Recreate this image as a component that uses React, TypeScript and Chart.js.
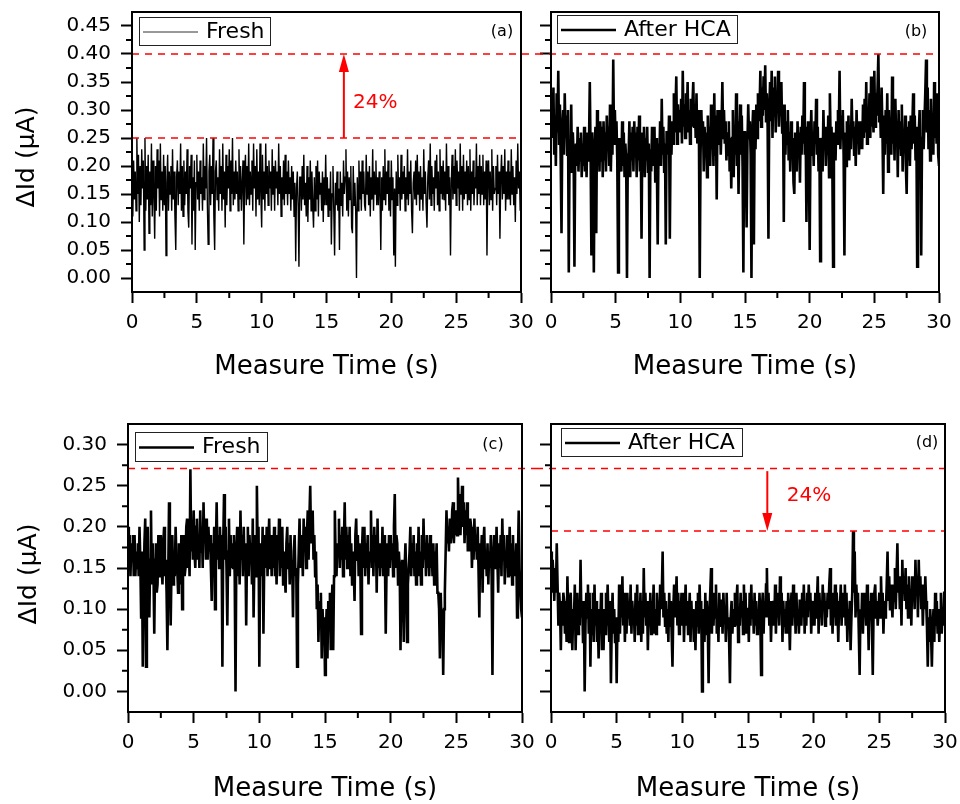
import React, { useEffect, useRef } from "react";
import { Chart, registerables } from "chart.js";

Chart.register(...registerables);

const FONT = '"DejaVu Sans", "Liberation Sans", Arial, sans-serif';

// total record length of each trace (s); samples are evenly spaced over it (16 per second)
const RECORD_LENGTH_S = 30;

const X_TICKS = [0, 5, 10, 15, 20, 25, 30];
const X_MINOR_TICKS = [2.5, 7.5, 12.5, 17.5, 22.5, 27.5];

const Y_TICKS_TOP = [0, 0.05, 0.1, 0.15, 0.2, 0.25, 0.3, 0.35, 0.4, 0.45];
const Y_MINOR_TOP = [0.025, 0.075, 0.125, 0.175, 0.225, 0.275, 0.325, 0.375, 0.425];
const Y_TICKS_BOTTOM = [0, 0.05, 0.1, 0.15, 0.2, 0.25, 0.3];
const Y_MINOR_BOTTOM = [0.025, 0.075, 0.125, 0.175, 0.225, 0.275];

// reference levels (µA)
const LEVEL_A_HIGH = 0.4;
const LEVEL_A_LOW = 0.25;
const LEVEL_C_HIGH = 0.271;
const LEVEL_D_LOW = 0.195;

const SERIES_NAMES = ["Fresh", "After HCA", "Fresh", "After HCA"];
const PANEL_TAGS = ["(a)", "(b)", "(c)", "(d)"];
const CHANGE_LABEL = "24%";

// (a) Fresh
const FRESH_A = [
  0.18, 0.11, 0.21, 0.14, 0.19, 0.12, 0.25, 0.15, 0.22, 0.10, 0.20, 0.13, 0.23, 0.16, 0.21, 0.05,
  0.25, 0.12, 0.20, 0.14, 0.22, 0.08, 0.19, 0.13, 0.24, 0.11, 0.21, 0.15, 0.07, 0.20, 0.12, 0.23,
  0.16, 0.21, 0.11, 0.24, 0.14, 0.19, 0.12, 0.22, 0.13, 0.20, 0.04, 0.17, 0.22, 0.12, 0.19, 0.15,
  0.20, 0.12, 0.23, 0.14, 0.19, 0.11, 0.05, 0.18, 0.21, 0.13, 0.19, 0.15, 0.24, 0.12, 0.20, 0.11,
  0.21, 0.13, 0.19, 0.15, 0.23, 0.12, 0.09, 0.20, 0.16, 0.22, 0.06, 0.18, 0.12, 0.21, 0.05, 0.17,
  0.22, 0.14, 0.19, 0.12, 0.21, 0.15, 0.18, 0.12, 0.24, 0.14, 0.20, 0.16, 0.25, 0.13, 0.06, 0.19,
  0.22, 0.13, 0.20, 0.15, 0.25, 0.11, 0.05, 0.19, 0.21, 0.14, 0.18, 0.12, 0.23, 0.15, 0.20, 0.12,
  0.24, 0.14, 0.19, 0.09, 0.22, 0.13, 0.20, 0.16, 0.23, 0.12, 0.21, 0.15, 0.25, 0.13, 0.19, 0.14,
  0.21, 0.15, 0.19, 0.12, 0.23, 0.14, 0.20, 0.12, 0.17, 0.21, 0.06, 0.18, 0.22, 0.13, 0.20, 0.14,
  0.24, 0.13, 0.19, 0.15, 0.21, 0.12, 0.24, 0.16, 0.20, 0.11, 0.23, 0.14, 0.19, 0.13, 0.24, 0.15,
  0.09, 0.22, 0.14, 0.19, 0.12, 0.24, 0.15, 0.20, 0.13, 0.21, 0.16, 0.19, 0.12, 0.23, 0.15, 0.20,
  0.12, 0.21, 0.16, 0.19, 0.13, 0.24, 0.15, 0.20, 0.11, 0.18, 0.14, 0.21, 0.13, 0.22, 0.15, 0.19,
  0.13, 0.21, 0.15, 0.18, 0.12, 0.20, 0.14, 0.19, 0.11, 0.17, 0.03, 0.16, 0.19, 0.13, 0.02, 0.18,
  0.18, 0.12, 0.20, 0.14, 0.22, 0.13, 0.17, 0.11, 0.20, 0.10, 0.18, 0.14, 0.21, 0.12, 0.19, 0.13,
  0.09, 0.18, 0.12, 0.20, 0.14, 0.21, 0.11, 0.19, 0.15, 0.17, 0.12, 0.19, 0.10, 0.18, 0.13, 0.22,
  0.13, 0.18, 0.11, 0.16, 0.12, 0.19, 0.06, 0.15, 0.20, 0.12, 0.04, 0.17, 0.13, 0.19, 0.12, 0.16,
  0.05, 0.19, 0.13, 0.17, 0.11, 0.21, 0.15, 0.18, 0.23, 0.12, 0.19, 0.11, 0.18, 0.14, 0.20, 0.09,
  0.08, 0.20, 0.13, 0.17, 0.12, 0.00, 0.18, 0.12, 0.21, 0.14, 0.19, 0.12, 0.21, 0.15, 0.19, 0.13,
  0.12, 0.22, 0.15, 0.19, 0.13, 0.20, 0.11, 0.18, 0.14, 0.23, 0.12, 0.19, 0.15, 0.21, 0.13, 0.18,
  0.13, 0.19, 0.15, 0.05, 0.18, 0.12, 0.20, 0.14, 0.23, 0.13, 0.19, 0.15, 0.21, 0.12, 0.18, 0.11,
  0.21, 0.14, 0.18, 0.04, 0.16, 0.02, 0.19, 0.13, 0.22, 0.15, 0.18, 0.12, 0.22, 0.14, 0.19, 0.15,
  0.20, 0.12, 0.18, 0.14, 0.23, 0.13, 0.19, 0.15, 0.21, 0.12, 0.08, 0.17, 0.19, 0.14, 0.21, 0.13,
  0.22, 0.15, 0.19, 0.12, 0.20, 0.14, 0.18, 0.12, 0.23, 0.15, 0.19, 0.13, 0.09, 0.18, 0.21, 0.14,
  0.24, 0.13, 0.20, 0.15, 0.18, 0.12, 0.21, 0.16, 0.22, 0.13, 0.19, 0.12, 0.23, 0.15, 0.20, 0.14,
  0.21, 0.14, 0.19, 0.12, 0.24, 0.15, 0.20, 0.13, 0.18, 0.04, 0.17, 0.22, 0.14, 0.20, 0.15, 0.23,
  0.13, 0.21, 0.16, 0.19, 0.12, 0.24, 0.15, 0.20, 0.12, 0.22, 0.14, 0.19, 0.15, 0.21, 0.13, 0.20,
  0.14, 0.23, 0.12, 0.19, 0.15, 0.21, 0.13, 0.18, 0.16, 0.24, 0.13, 0.20, 0.15, 0.22, 0.13, 0.20,
  0.15, 0.22, 0.13, 0.19, 0.14, 0.21, 0.04, 0.18, 0.21, 0.13, 0.19, 0.14, 0.23, 0.12, 0.20, 0.15,
  0.16, 0.20, 0.13, 0.22, 0.15, 0.19, 0.07, 0.18, 0.22, 0.14, 0.20, 0.15, 0.23, 0.12, 0.19, 0.14,
  0.21, 0.14, 0.19, 0.13, 0.23, 0.15, 0.20, 0.13, 0.18, 0.10, 0.21, 0.15, 0.24, 0.16, 0.19, 0.12,
  0.19,
];

// (b) After HCA
const AFTER_HCA_B = [
  0.27, 0.33, 0.25, 0.34, 0.22, 0.29, 0.20, 0.33, 0.26, 0.37, 0.24, 0.31, 0.21, 0.08, 0.27, 0.30,
  0.22, 0.33, 0.25, 0.29, 0.22, 0.30, 0.01, 0.24, 0.20, 0.31, 0.19, 0.26, 0.22, 0.02, 0.23, 0.24,
  0.20, 0.27, 0.19, 0.25, 0.21, 0.26, 0.18, 0.24, 0.20, 0.27, 0.19, 0.25, 0.18, 0.26, 0.21, 0.24,
  0.35, 0.22, 0.04, 0.26, 0.19, 0.01, 0.23, 0.27, 0.08, 0.30, 0.20, 0.26, 0.19, 0.28, 0.21, 0.27,
  0.18, 0.28, 0.21, 0.26, 0.19, 0.29, 0.23, 0.27, 0.20, 0.31, 0.19, 0.26, 0.22, 0.39, 0.24, 0.30,
  0.24, 0.28, 0.21, 0.01, 0.25, 0.20, 0.25, 0.19, 0.28, 0.20, 0.26, 0.18, 0.24, 0.21, 0.00, 0.22,
  0.22, 0.28, 0.18, 0.26, 0.21, 0.27, 0.19, 0.28, 0.22, 0.26, 0.18, 0.27, 0.21, 0.29, 0.19, 0.25,
  0.07, 0.26, 0.20, 0.27, 0.18, 0.25, 0.21, 0.27, 0.19, 0.24, 0.00, 0.23, 0.19, 0.27, 0.20, 0.25,
  0.27, 0.17, 0.25, 0.20, 0.06, 0.24, 0.21, 0.28, 0.20, 0.32, 0.22, 0.27, 0.19, 0.24, 0.06, 0.26,
  0.26, 0.22, 0.29, 0.07, 0.25, 0.22, 0.28, 0.24, 0.33, 0.26, 0.30, 0.36, 0.24, 0.31, 0.26, 0.30,
  0.26, 0.32, 0.24, 0.37, 0.27, 0.31, 0.25, 0.33, 0.28, 0.35, 0.26, 0.30, 0.24, 0.32, 0.27, 0.31,
  0.35, 0.27, 0.31, 0.25, 0.33, 0.24, 0.30, 0.26, 0.00, 0.22, 0.30, 0.24, 0.28, 0.19, 0.27, 0.23,
  0.26, 0.18, 0.29, 0.22, 0.27, 0.20, 0.31, 0.23, 0.27, 0.20, 0.33, 0.22, 0.29, 0.14, 0.30, 0.25,
  0.24, 0.30, 0.22, 0.27, 0.35, 0.25, 0.30, 0.24, 0.28, 0.21, 0.26, 0.22, 0.28, 0.19, 0.25, 0.16,
  0.25, 0.30, 0.18, 0.27, 0.22, 0.33, 0.20, 0.28, 0.15, 0.26, 0.31, 0.22, 0.29, 0.20, 0.01, 0.26,
  0.26, 0.22, 0.09, 0.24, 0.31, 0.25, 0.28, 0.22, 0.00, 0.26, 0.30, 0.06, 0.29, 0.23, 0.31, 0.25,
  0.33, 0.28, 0.30, 0.37, 0.27, 0.34, 0.29, 0.36, 0.30, 0.38, 0.28, 0.33, 0.27, 0.07, 0.30, 0.35,
  0.28, 0.37, 0.25, 0.34, 0.29, 0.36, 0.26, 0.33, 0.30, 0.37, 0.27, 0.32, 0.29, 0.35, 0.26, 0.31,
  0.10, 0.31, 0.22, 0.28, 0.24, 0.30, 0.21, 0.26, 0.19, 0.28, 0.22, 0.25, 0.17, 0.15, 0.26, 0.24,
  0.19, 0.28, 0.23, 0.26, 0.17, 0.27, 0.22, 0.29, 0.24, 0.35, 0.22, 0.27, 0.10, 0.24, 0.28, 0.22,
  0.05, 0.24, 0.30, 0.22, 0.26, 0.20, 0.28, 0.24, 0.32, 0.22, 0.27, 0.19, 0.25, 0.03, 0.24, 0.25,
  0.19, 0.30, 0.23, 0.27, 0.20, 0.26, 0.22, 0.29, 0.18, 0.33, 0.24, 0.27, 0.21, 0.02, 0.26, 0.24,
  0.21, 0.28, 0.24, 0.30, 0.26, 0.37, 0.23, 0.29, 0.25, 0.30, 0.22, 0.04, 0.26, 0.20, 0.28, 0.23,
  0.29, 0.21, 0.27, 0.23, 0.32, 0.25, 0.28, 0.22, 0.27, 0.20, 0.30, 0.24, 0.28, 0.22, 0.26, 0.23,
  0.28, 0.23, 0.31, 0.25, 0.32, 0.26, 0.35, 0.24, 0.30, 0.26, 0.33, 0.25, 0.36, 0.27, 0.30, 0.26,
  0.37, 0.27, 0.33, 0.29, 0.34, 0.40, 0.28, 0.31, 0.25, 0.34, 0.27, 0.15, 0.29, 0.22, 0.30, 0.24,
  0.33, 0.19, 0.30, 0.24, 0.27, 0.22, 0.36, 0.24, 0.29, 0.21, 0.32, 0.25, 0.28, 0.18, 0.30, 0.23,
  0.28, 0.22, 0.31, 0.19, 0.26, 0.23, 0.29, 0.20, 0.15, 0.27, 0.21, 0.28, 0.20, 0.29, 0.23, 0.27,
  0.33, 0.24, 0.29, 0.21, 0.27, 0.02, 0.21, 0.26, 0.30, 0.22, 0.04, 0.25, 0.30, 0.23, 0.28, 0.33,
  0.39, 0.26, 0.34, 0.23, 0.30, 0.21, 0.32, 0.24, 0.29, 0.22, 0.35, 0.25, 0.30, 0.24, 0.33, 0.22,
  0.20,
];

// (c) Fresh
const FRESH_C = [
  0.20, 0.15, 0.19, 0.14, 0.18, 0.16, 0.19, 0.14, 0.19, 0.14, 0.17, 0.15, 0.18, 0.14, 0.20, 0.16,
  0.09, 0.17, 0.03, 0.12, 0.18, 0.21, 0.03, 0.15, 0.20, 0.14, 0.09, 0.16, 0.22, 0.13, 0.18, 0.15,
  0.07, 0.16, 0.18, 0.12, 0.13, 0.19, 0.17, 0.14, 0.19, 0.15, 0.13, 0.18, 0.20, 0.14, 0.16, 0.12,
  0.05, 0.14, 0.23, 0.17, 0.08, 0.15, 0.19, 0.13, 0.17, 0.14, 0.20, 0.16, 0.15, 0.12, 0.18, 0.13,
  0.14, 0.19, 0.10, 0.16, 0.19, 0.14, 0.15, 0.20, 0.21, 0.15, 0.18, 0.14, 0.27, 0.17, 0.20, 0.16,
  0.22, 0.17, 0.15, 0.20, 0.21, 0.16, 0.19, 0.15, 0.22, 0.17, 0.20, 0.15, 0.23, 0.18, 0.21, 0.16,
  0.21, 0.16, 0.20, 0.17, 0.19, 0.15, 0.11, 0.18, 0.15, 0.20, 0.10, 0.17, 0.23, 0.16, 0.19, 0.15,
  0.20, 0.16, 0.19, 0.03, 0.18, 0.24, 0.16, 0.20, 0.15, 0.08, 0.17, 0.21, 0.14, 0.19, 0.15, 0.18,
  0.15, 0.19, 0.14, 0.00, 0.17, 0.20, 0.14, 0.18, 0.13, 0.22, 0.16, 0.19, 0.14, 0.20, 0.15, 0.18,
  0.08, 0.17, 0.20, 0.14, 0.19, 0.16, 0.18, 0.13, 0.21, 0.09, 0.16, 0.19, 0.14, 0.25, 0.17, 0.20,
  0.03, 0.16, 0.18, 0.14, 0.20, 0.07, 0.16, 0.19, 0.15, 0.20, 0.14, 0.18, 0.21, 0.15, 0.19, 0.14,
  0.19, 0.15, 0.20, 0.14, 0.18, 0.13, 0.19, 0.16, 0.21, 0.14, 0.18, 0.15, 0.20, 0.13, 0.17, 0.14,
  0.12, 0.18, 0.20, 0.15, 0.18, 0.13, 0.19, 0.14, 0.16, 0.09, 0.17, 0.19, 0.14, 0.15, 0.03, 0.13,
  0.17, 0.21, 0.15, 0.19, 0.18, 0.14, 0.21, 0.17, 0.20, 0.15, 0.19, 0.22, 0.16, 0.21, 0.25, 0.18,
  0.18, 0.22, 0.16, 0.19, 0.14, 0.17, 0.10, 0.13, 0.06, 0.11, 0.09, 0.12, 0.04, 0.10, 0.07, 0.09,
  0.02, 0.07, 0.10, 0.04, 0.11, 0.08, 0.12, 0.05, 0.10, 0.13, 0.05, 0.14, 0.22, 0.16, 0.14, 0.18,
  0.17, 0.21, 0.15, 0.19, 0.16, 0.20, 0.14, 0.18, 0.23, 0.16, 0.20, 0.15, 0.19, 0.16, 0.20, 0.14,
  0.18, 0.13, 0.17, 0.15, 0.11, 0.19, 0.21, 0.16, 0.19, 0.14, 0.18, 0.16, 0.07, 0.17, 0.20, 0.15,
  0.20, 0.14, 0.18, 0.15, 0.19, 0.13, 0.17, 0.16, 0.22, 0.15, 0.19, 0.14, 0.20, 0.16, 0.19, 0.12,
  0.21, 0.15, 0.18, 0.14, 0.17, 0.15, 0.20, 0.14, 0.19, 0.16, 0.07, 0.15, 0.18, 0.14, 0.19, 0.15,
  0.19, 0.16, 0.18, 0.14, 0.20, 0.24, 0.15, 0.19, 0.18, 0.13, 0.17, 0.15, 0.05, 0.14, 0.16, 0.12,
  0.06, 0.15, 0.18, 0.14, 0.06, 0.13, 0.15, 0.17, 0.20, 0.14, 0.18, 0.15, 0.19, 0.14, 0.17, 0.13,
  0.18, 0.15, 0.20, 0.14, 0.17, 0.13, 0.19, 0.15, 0.21, 0.16, 0.18, 0.14, 0.19, 0.15, 0.18, 0.14,
  0.19, 0.15, 0.17, 0.14, 0.18, 0.13, 0.17, 0.15, 0.18, 0.12, 0.12, 0.10, 0.04, 0.12, 0.08, 0.10,
  0.02, 0.10, 0.12, 0.17, 0.22, 0.18, 0.20, 0.17, 0.21, 0.18, 0.19, 0.22, 0.23, 0.18, 0.21, 0.19,
  0.22, 0.19, 0.26, 0.21, 0.24, 0.19, 0.22, 0.25, 0.20, 0.23, 0.18, 0.22, 0.19, 0.23, 0.17, 0.21,
  0.17, 0.21, 0.20, 0.15, 0.19, 0.16, 0.21, 0.17, 0.19, 0.16, 0.20, 0.15, 0.09, 0.18, 0.16, 0.19,
  0.12, 0.18, 0.20, 0.15, 0.17, 0.14, 0.18, 0.13, 0.17, 0.15, 0.19, 0.14, 0.02, 0.16, 0.19, 0.15,
  0.15, 0.20, 0.16, 0.12, 0.18, 0.15, 0.19, 0.14, 0.21, 0.16, 0.19, 0.13, 0.17, 0.15, 0.19, 0.14,
  0.16, 0.20, 0.14, 0.18, 0.13, 0.19, 0.15, 0.17, 0.14, 0.18, 0.09, 0.16, 0.22, 0.15, 0.12, 0.10,
  0.09,
];

// (d) After HCA
const AFTER_HCA_D = [
  0.17, 0.12, 0.16, 0.14, 0.11, 0.15, 0.12, 0.18, 0.13, 0.08, 0.12, 0.10, 0.05, 0.11, 0.08, 0.12,
  0.11, 0.07, 0.10, 0.06, 0.14, 0.09, 0.06, 0.11, 0.12, 0.08, 0.05, 0.10, 0.09, 0.13, 0.05, 0.10,
  0.12, 0.07, 0.10, 0.08, 0.16, 0.09, 0.11, 0.06, 0.11, 0.00, 0.08, 0.12, 0.09, 0.13, 0.07, 0.12,
  0.03, 0.10, 0.07, 0.12, 0.06, 0.13, 0.08, 0.11, 0.06, 0.09, 0.04, 0.10, 0.08, 0.12, 0.05, 0.09,
  0.05, 0.10, 0.07, 0.12, 0.08, 0.13, 0.09, 0.06, 0.11, 0.01, 0.08, 0.12, 0.07, 0.10, 0.06, 0.09,
  0.01, 0.09, 0.06, 0.13, 0.07, 0.11, 0.09, 0.14, 0.08, 0.12, 0.06, 0.10, 0.07, 0.12, 0.09, 0.11,
  0.08, 0.13, 0.07, 0.11, 0.09, 0.10, 0.06, 0.12, 0.08, 0.13, 0.07, 0.11, 0.08, 0.12, 0.06, 0.11,
  0.07, 0.15, 0.09, 0.12, 0.08, 0.11, 0.05, 0.10, 0.08, 0.12, 0.07, 0.11, 0.09, 0.13, 0.07, 0.10,
  0.07, 0.12, 0.09, 0.11, 0.08, 0.13, 0.10, 0.12, 0.17, 0.09, 0.12, 0.08, 0.11, 0.07, 0.10, 0.06,
  0.12, 0.08, 0.11, 0.07, 0.03, 0.10, 0.13, 0.09, 0.11, 0.14, 0.08, 0.12, 0.07, 0.11, 0.09, 0.12,
  0.08, 0.12, 0.06, 0.10, 0.13, 0.08, 0.11, 0.07, 0.09, 0.12, 0.06, 0.11, 0.08, 0.10, 0.06, 0.09,
  0.05, 0.11, 0.08, 0.12, 0.07, 0.13, 0.09, 0.11, 0.00, 0.08, 0.10, 0.06, 0.12, 0.07, 0.11, 0.08,
  0.01, 0.09, 0.12, 0.15, 0.07, 0.11, 0.08, 0.12, 0.09, 0.13, 0.07, 0.10, 0.06, 0.12, 0.08, 0.11,
  0.11, 0.07, 0.12, 0.09, 0.10, 0.06, 0.12, 0.08, 0.09, 0.06, 0.01, 0.09, 0.11, 0.07, 0.10, 0.08,
  0.12, 0.08, 0.11, 0.13, 0.06, 0.10, 0.08, 0.12, 0.09, 0.11, 0.07, 0.13, 0.08, 0.12, 0.07, 0.10,
  0.10, 0.06, 0.12, 0.08, 0.13, 0.09, 0.11, 0.07, 0.12, 0.08, 0.11, 0.07, 0.10, 0.08, 0.12, 0.09,
  0.02, 0.10, 0.12, 0.07, 0.11, 0.09, 0.13, 0.15, 0.09, 0.12, 0.08, 0.11, 0.06, 0.10, 0.08, 0.11,
  0.08, 0.13, 0.07, 0.11, 0.09, 0.12, 0.08, 0.14, 0.10, 0.12, 0.06, 0.11, 0.08, 0.10, 0.07, 0.11,
  0.07, 0.12, 0.09, 0.05, 0.10, 0.12, 0.08, 0.13, 0.09, 0.11, 0.07, 0.12, 0.08, 0.10, 0.07, 0.11,
  0.11, 0.08, 0.12, 0.09, 0.13, 0.07, 0.11, 0.08, 0.12, 0.09, 0.13, 0.10, 0.12, 0.07, 0.11, 0.08,
  0.10, 0.08, 0.12, 0.09, 0.11, 0.14, 0.07, 0.12, 0.09, 0.11, 0.08, 0.13, 0.10, 0.12, 0.08, 0.11,
  0.09, 0.12, 0.10, 0.13, 0.15, 0.08, 0.11, 0.07, 0.12, 0.09, 0.13, 0.08, 0.12, 0.10, 0.06, 0.11,
  0.10, 0.13, 0.08, 0.12, 0.09, 0.11, 0.13, 0.08, 0.12, 0.06, 0.10, 0.08, 0.11, 0.05, 0.09, 0.12,
  0.195, 0.12, 0.17, 0.09, 0.13, 0.10, 0.12, 0.07, 0.02, 0.10, 0.08, 0.12, 0.07, 0.11, 0.09, 0.12,
  0.08, 0.13, 0.10, 0.05, 0.11, 0.09, 0.12, 0.08, 0.02, 0.10, 0.12, 0.13, 0.09, 0.11, 0.08, 0.10,
  0.12, 0.09, 0.14, 0.10, 0.12, 0.07, 0.11, 0.09, 0.10, 0.13, 0.17, 0.11, 0.14, 0.10, 0.13, 0.11,
  0.09, 0.13, 0.11, 0.15, 0.10, 0.14, 0.18, 0.12, 0.14, 0.10, 0.13, 0.08, 0.16, 0.12, 0.14, 0.11,
  0.15, 0.10, 0.13, 0.09, 0.14, 0.11, 0.12, 0.08, 0.14, 0.11, 0.13, 0.10, 0.16, 0.12, 0.14, 0.09,
  0.16, 0.12, 0.14, 0.10, 0.13, 0.08, 0.12, 0.10, 0.14, 0.11, 0.08, 0.03, 0.09, 0.06, 0.10, 0.07,
  0.03, 0.08, 0.10, 0.06, 0.12, 0.08, 0.11, 0.07, 0.10, 0.06, 0.09, 0.12, 0.07, 0.10, 0.08, 0.12,
  0.12,
];

type Ref = { value: number; fromEdge: boolean; toEdge: boolean };

type PanelCfg = {
  key: string;
  left: number;
  top: number;
  w: number;
  h: number;
  padding: { left: number; top: number; right: number; bottom: number };
  yWidth: number;
  xHeight: number;
  yMin: number;
  yMax: number;
  yTicks: number[];
  yMinor: number[];
  showYLabels: boolean;
  values: number[];
  lineWidth: number;
  name: string;
  tag: string;
  tagDx: number;
  tagDy: number;
  legend: { dx: number; dy: number; w: number; h: number; lineW: number; lineColor: string };
  refs: Ref[];
  arrow?: { x: number; from: number; to: number };
  note?: { x: number; y: number };
  xTitleDy: number;
  yTitleX?: number;
  yTitleDy?: number;
};

const PANELS: PanelCfg[] = [
  {
    key: "a", left: 0, top: 0, w: 536, h: 400,
    padding: { left: 0, top: 12, right: 15, bottom: 0 },
    yWidth: 132, xHeight: 108,
    yMin: -0.025, yMax: 0.475, yTicks: Y_TICKS_TOP, yMinor: Y_MINOR_TOP, showYLabels: true,
    values: FRESH_A, lineWidth: 1.4, name: SERIES_NAMES[0], tag: PANEL_TAGS[0], tagDx: -19, tagDy: 20,
    legend: { dx: 7, dy: 5, w: 131, h: 28, lineW: 1, lineColor: "#333" },
    refs: [
      { value: LEVEL_A_HIGH, fromEdge: false, toEdge: true },
      { value: LEVEL_A_LOW, fromEdge: false, toEdge: false },
    ],
    arrow: { x: 16.34, from: LEVEL_A_LOW, to: LEVEL_A_HIGH },
    note: { x: 17.05, y: 0.3127 },
    xTitleDy: 75, yTitleX: 27, yTitleDy: 5,
  },
  {
    key: "b", left: 536, top: 0, w: 424, h: 400,
    padding: { left: 0, top: 12, right: 21, bottom: 0 },
    yWidth: 15, xHeight: 108,
    yMin: -0.025, yMax: 0.475, yTicks: Y_TICKS_TOP, yMinor: Y_MINOR_TOP, showYLabels: false,
    values: AFTER_HCA_B, lineWidth: 2.6, name: SERIES_NAMES[1], tag: PANEL_TAGS[1], tagDx: -23, tagDy: 20,
    legend: { dx: 6, dy: 3, w: 180, h: 28, lineW: 2.5, lineColor: "#000" },
    refs: [{ value: LEVEL_A_HIGH, fromEdge: true, toEdge: false }],
    xTitleDy: 75,
  },
  {
    key: "c", left: 0, top: 400, w: 536, h: 404,
    padding: { left: 0, top: 24, right: 14, bottom: 0 },
    yWidth: 128, xHeight: 92,
    yMin: -0.025, yMax: 0.325, yTicks: Y_TICKS_BOTTOM, yMinor: Y_MINOR_BOTTOM, showYLabels: true,
    values: FRESH_C, lineWidth: 2.6, name: SERIES_NAMES[2], tag: PANEL_TAGS[2], tagDx: -29, tagDy: 21,
    legend: { dx: 7, dy: 8, w: 132, h: 29, lineW: 2.5, lineColor: "#000" },
    refs: [{ value: LEVEL_C_HIGH, fromEdge: false, toEdge: true }],
    xTitleDy: 77, yTitleX: 29, yTitleDy: 6,
  },
  {
    key: "d", left: 536, top: 400, w: 424, h: 404,
    padding: { left: 0, top: 24, right: 15, bottom: 0 },
    yWidth: 15, xHeight: 92,
    yMin: -0.025, yMax: 0.325, yTicks: Y_TICKS_BOTTOM, yMinor: Y_MINOR_BOTTOM, showYLabels: false,
    values: AFTER_HCA_D, lineWidth: 2.6, name: SERIES_NAMES[3], tag: PANEL_TAGS[3], tagDx: -18, tagDy: 19,
    legend: { dx: 10, dy: 4, w: 181, h: 28, lineW: 2.5, lineColor: "#000" },
    refs: [
      { value: LEVEL_C_HIGH, fromEdge: true, toEdge: false },
      { value: LEVEL_D_LOW, fromEdge: false, toEdge: false },
    ],
    arrow: { x: 16.47, from: 0.2677, to: LEVEL_D_LOW },
    note: { x: 17.95, y: 0.238 },
    xTitleDy: 77,
  },
];

function makeDecor(cfg: PanelCfg) {
  return {
    id: "decor" + cfg.key,
    afterDatasetsDraw(chart: any) {
      const { ctx, chartArea: a, scales } = chart;
      const xs = scales.x;
      const ys = scales.y;
      ctx.save();
      ctx.strokeStyle = "#ff0000";
      ctx.lineWidth = 1.5;
      ctx.setLineDash([7, 6]);
      for (const r of cfg.refs) {
        const py = ys.getPixelForValue(r.value);
        const x0 = r.fromEdge ? 0 : a.left;
        const x1 = r.toEdge ? chart.width : a.right;
        ctx.beginPath();
        ctx.moveTo(x0, py);
        ctx.lineTo(x1, py);
        ctx.stroke();
      }
      ctx.setLineDash([]);
      if (cfg.arrow) {
        const px = xs.getPixelForValue(cfg.arrow.x);
        const p0 = ys.getPixelForValue(cfg.arrow.from);
        const p1 = ys.getPixelForValue(cfg.arrow.to);
        const dir = p1 < p0 ? -1 : 1;
        const head = 18;
        ctx.strokeStyle = "#ff0000";
        ctx.fillStyle = "#ff0000";
        ctx.lineWidth = 2;
        ctx.beginPath();
        ctx.moveTo(px, p0);
        ctx.lineTo(px, p1 - dir * head);
        ctx.stroke();
        ctx.beginPath();
        ctx.moveTo(px, p1);
        ctx.lineTo(px - 5, p1 - dir * head);
        ctx.lineTo(px + 5, p1 - dir * head);
        ctx.closePath();
        ctx.fill();
      }
      if (cfg.note) {
        ctx.fillStyle = "#ff0000";
        ctx.font = `20px ${FONT}`;
        ctx.textAlign = "left";
        ctx.textBaseline = "middle";
        ctx.fillText(CHANGE_LABEL, xs.getPixelForValue(cfg.note.x), ys.getPixelForValue(cfg.note.y));
      }
      ctx.restore();
    },
    afterDraw(chart: any) {
      const { ctx, chartArea: a, scales } = chart;
      const xs = scales.x;
      const ys = scales.y;
      ctx.save();
      ctx.strokeStyle = "#000";
      ctx.lineWidth = 2;
      ctx.strokeRect(a.left, a.top, a.right - a.left, a.bottom - a.top);
      ctx.beginPath();
      for (const v of cfg.yMinor) {
        const py = ys.getPixelForValue(v);
        ctx.moveTo(a.left - 6, py);
        ctx.lineTo(a.left, py);
      }
      for (const v of X_MINOR_TICKS) {
        const px = xs.getPixelForValue(v);
        ctx.moveTo(px, a.bottom);
        ctx.lineTo(px, a.bottom + 6);
      }
      ctx.stroke();
      const L = cfg.legend;
      const bx = a.left + L.dx;
      const by = a.top + L.dy;
      ctx.fillStyle = "#fff";
      ctx.fillRect(bx, by, L.w, L.h);
      ctx.lineWidth = 1;
      ctx.strokeStyle = "#222";
      ctx.strokeRect(bx + 0.5, by + 0.5, L.w, L.h);
      const ly = by + L.h / 2 + 1;
      ctx.strokeStyle = L.lineColor;
      ctx.lineWidth = L.lineW;
      ctx.beginPath();
      ctx.moveTo(bx + 4, ly);
      ctx.lineTo(bx + 59, ly);
      ctx.stroke();
      ctx.fillStyle = "#000";
      ctx.font = `22px ${FONT}`;
      ctx.textAlign = "left";
      ctx.textBaseline = "middle";
      ctx.fillText(cfg.name, bx + 67, ly);
      ctx.font = `16px ${FONT}`;
      ctx.textAlign = "center";
      ctx.fillText(cfg.tag, a.right + cfg.tagDx, a.top + cfg.tagDy);
      ctx.font = `26px ${FONT}`;
      ctx.textAlign = "center";
      ctx.textBaseline = "middle";
      ctx.fillText("Measure Time (s)", (a.left + a.right) / 2, a.bottom + cfg.xTitleDy);
      if (cfg.yTitleX !== undefined) {
        ctx.save();
        ctx.font = `25px ${FONT}`;
        ctx.translate(cfg.yTitleX, (a.top + a.bottom) / 2 + (cfg.yTitleDy || 0));
        ctx.rotate(-Math.PI / 2);
        ctx.fillText("\u0394Id (\u03bcA)", 0, 0);
        ctx.restore();
      }
      ctx.restore();
    },
  };
}

function Panel({ cfg }: { cfg: PanelCfg }) {
  const ref = useRef<HTMLCanvasElement>(null);
  useEffect(() => {
    const canvas = ref.current;
    if (!canvas) return;
    const step = RECORD_LENGTH_S / (cfg.values.length - 1);
    const points = cfg.values.map((y, i) => ({ x: i * step, y }));
    const chart = new Chart(canvas, {
      type: "line",
      data: {
        datasets: [
          {
            label: cfg.name,
            data: points,
            borderColor: "#000",
            borderWidth: cfg.lineWidth,
            pointRadius: 0,
            tension: 0,
            fill: false,
          },
        ],
      },
      options: {
        animation: false,
        responsive: false,
        devicePixelRatio: 1,
        layout: { padding: cfg.padding },
        plugins: { legend: { display: false }, tooltip: { enabled: false } },
        scales: {
          x: {
            type: "linear",
            position: "bottom",
            min: 0,
            max: RECORD_LENGTH_S,
            afterBuildTicks: (s: any) => {
              s.ticks = X_TICKS.map((v) => ({ value: v }));
            },
            afterFit: (s: any) => {
              s.height = cfg.xHeight;
              s.paddingLeft = 0;
              s.paddingRight = 0;
              s.paddingTop = 0;
              s.paddingBottom = 0;
            },
            grid: { drawOnChartArea: false, drawTicks: true, tickLength: 11, tickWidth: 2, tickColor: "#000" },
            border: { display: true, color: "#000", width: 2 },
            ticks: {
              color: "#000",
              font: { family: FONT, size: 20 },
              padding: 8,
              maxRotation: 0,
              autoSkip: false,
              callback: (v: any) => String(v),
            },
          },
          y: {
            type: "linear",
            position: "left",
            min: cfg.yMin,
            max: cfg.yMax,
            afterBuildTicks: (s: any) => {
              s.ticks = cfg.yTicks.map((v) => ({ value: v }));
            },
            afterFit: (s: any) => {
              s.width = cfg.yWidth;
              s.paddingLeft = 0;
              s.paddingRight = 0;
              s.paddingTop = 0;
              s.paddingBottom = 0;
            },
            grid: { drawOnChartArea: false, drawTicks: true, tickLength: 11, tickWidth: 2, tickColor: "#000" },
            border: { display: true, color: "#000", width: 2 },
            ticks: {
              color: "#000",
              font: { family: FONT, size: 20 },
              padding: 10,
              autoSkip: false,
              callback: (v: any) => (cfg.showYLabels ? Number(v).toFixed(2) : ""),
            },
          },
        },
      },
      plugins: [makeDecor(cfg)],
    } as any);
    return () => chart.destroy();
  }, [cfg]);
  return (
    <canvas
      ref={ref}
      width={cfg.w}
      height={cfg.h}
      style={{ position: "absolute", left: cfg.left, top: cfg.top, width: cfg.w, height: cfg.h }}
    />
  );
}

export default function App() {
  return (
    <div style={{ position: "absolute", left: 0, top: 0, width: 960, height: 804, background: "#fff" }}>
      {PANELS.map((p) => (
        <Panel key={p.key} cfg={p} />
      ))}
    </div>
  );
}
